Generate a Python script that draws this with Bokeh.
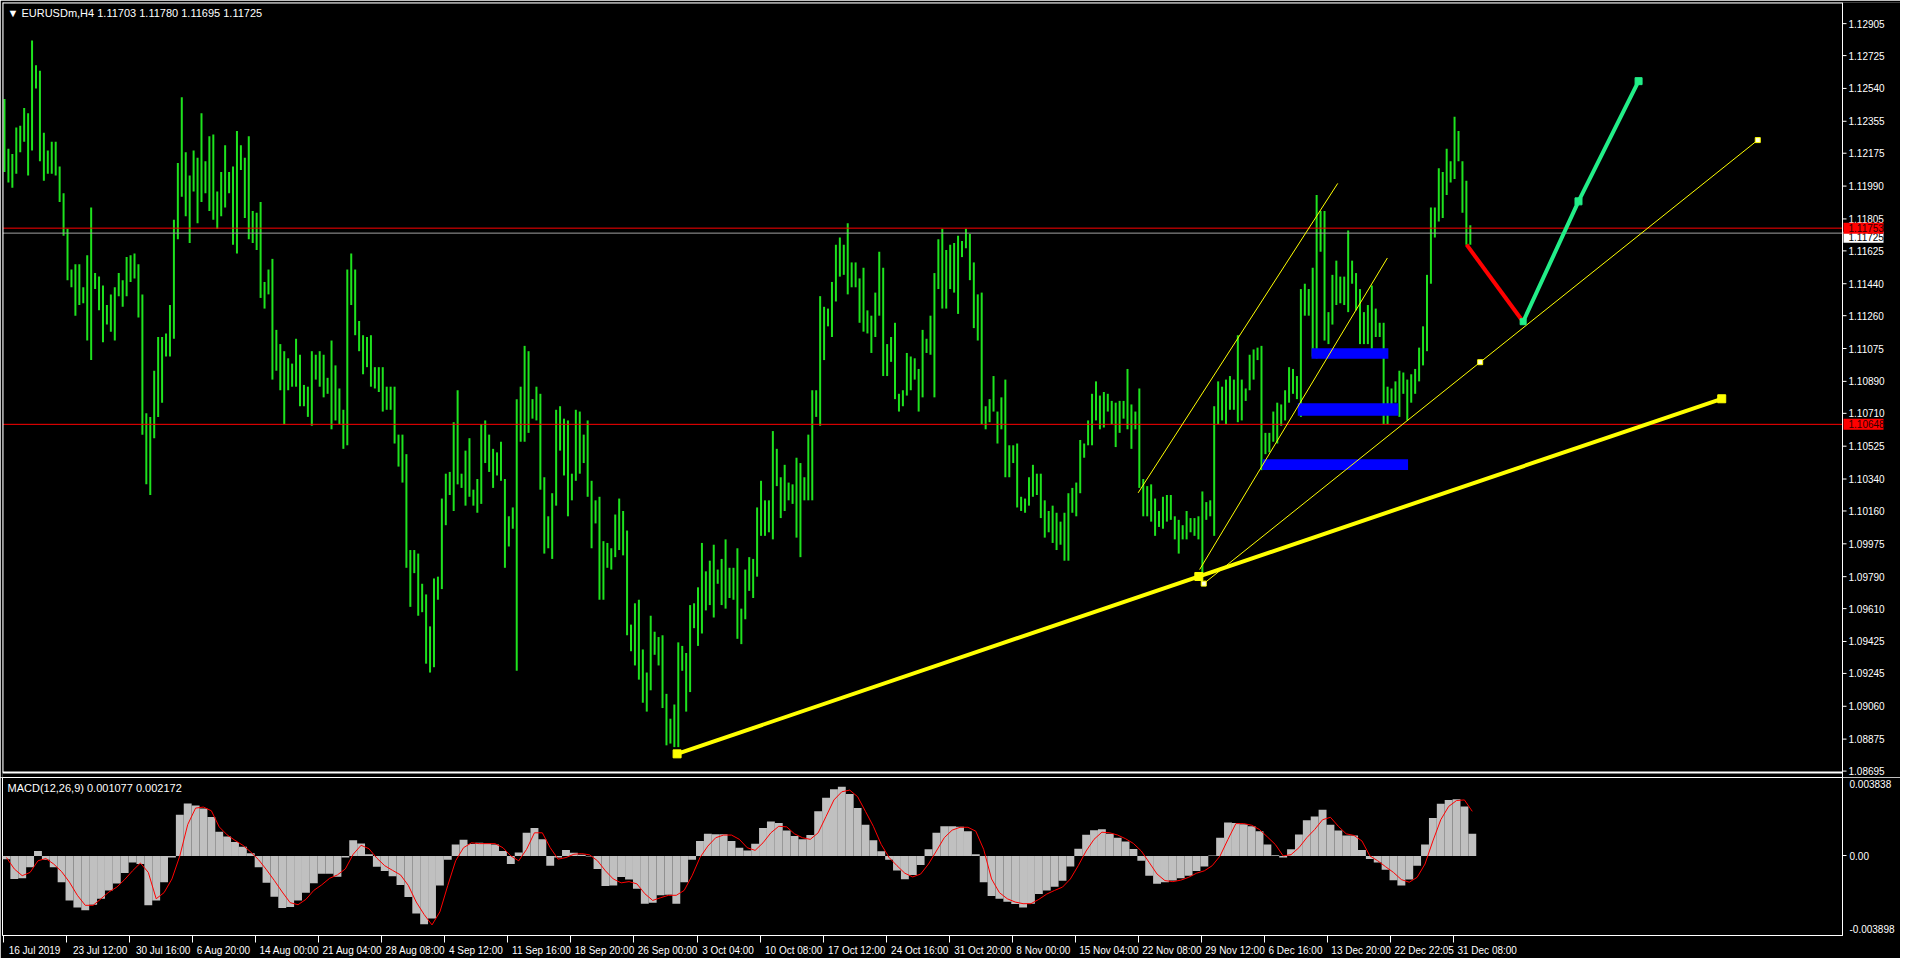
from bokeh.plotting import figure
from bokeh.models import Range1d, FixedTicker, Label, CustomJSTickFormatter
from bokeh.core.properties import value
from bokeh.layouts import column
from bokeh.embed import file_html
from bokeh.resources import INLINE

# ---------------- data (EURUSDm H4, each entry = 2 consecutive H4 bars) ----------------
bar_high = [
 1.1248,1.1220,1.1217,1.1232,1.1233,1.1243,1.1240,1.1281,1.1267,1.1264,
 1.1229,1.1219,1.1224,1.1224,1.1210,1.1195,1.1175,1.1152,1.1155,1.1155,
 1.1142,1.1160,1.1187,1.1150,1.1148,1.1143,1.1132,1.1138,1.1142,1.1150,
 1.1146,1.1159,1.1160,1.1161,1.1155,1.1138,1.1071,1.1069,1.1095,1.1114,
 1.1114,1.1116,1.1132,1.1180,1.1212,1.1249,1.1218,1.1205,1.1219,1.1215,
 1.1240,1.1213,1.1227,1.1228,1.1196,1.1207,1.1222,1.1207,1.1210,1.1230,
 1.1222,1.1215,1.1227,1.1185,1.1184,1.1190,1.1145,1.1152,1.1158,1.1118,
 1.1110,1.1106,1.1102,1.1099,1.1113,1.1104,1.1087,1.1086,1.1106,1.1104,
 1.1106,1.1104,1.1091,1.1112,1.1098,1.1085,1.1073,1.1152,1.1161,1.1152,
 1.1123,1.1115,1.1114,1.1115,1.1097,1.1097,1.1097,1.1086,1.1086,1.1086,
 1.1059,1.1059,1.1048,1.0994,1.0994,1.0992,1.0975,1.0969,1.0951,1.0978,
 1.0979,1.1023,1.1037,1.1038,1.1066,1.1084,1.1037,1.1050,1.1057,1.1028,
 1.1034,1.1065,1.1067,1.1059,1.1051,1.1049,1.1055,1.1034,1.1013,1.1018,
 1.1079,1.1086,1.1109,1.1106,1.1079,1.1086,1.1082,1.1035,1.1013,1.1026,
 1.1073,1.1075,1.1068,1.1067,1.1037,1.1073,1.1072,1.1059,1.1067,1.1033,
 1.1022,1.1024,1.0999,1.0998,1.0995,1.1014,1.1023,1.1016,1.1005,1.0952,
 1.0964,1.0966,1.0938,1.0925,1.0957,1.0948,1.0945,1.0946,1.0913,1.0899,
 1.0907,1.0942,1.0940,1.0936,1.0963,1.0964,1.0973,1.0998,1.0982,1.0988,
 1.0997,1.0983,1.0989,1.1000,1.0984,1.0984,1.0995,1.0961,1.0983,1.0990,
 1.0989,1.1018,1.1033,1.1022,1.1022,1.1061,1.1051,1.1035,1.1042,1.1032,
 1.1031,1.1046,1.1043,1.1035,1.1059,1.1084,1.1084,1.1137,1.1131,1.1130,
 1.1145,1.1166,1.1170,1.1166,1.1178,1.1156,1.1156,1.1147,1.1153,1.1129,
 1.1126,1.1139,1.1162,1.1153,1.1110,1.1114,1.1122,1.1082,1.1084,1.1105,
 1.1103,1.1102,1.1096,1.1118,1.1113,1.1126,1.1150,1.1169,1.1175,1.1163,
 1.1166,1.1167,1.1171,1.1168,1.1175,1.1172,1.1156,1.1138,1.1139,1.1075,
 1.1079,1.1092,1.1072,1.1080,1.1090,1.1053,1.1053,1.1054,1.1024,1.1023,
 1.1035,1.1042,1.1037,1.1037,1.1022,1.1016,1.1019,1.1015,1.1010,1.1015,
 1.1026,1.1029,1.1032,1.1056,1.1054,1.1067,1.1082,1.1089,1.1081,1.1083,
 1.1082,1.1078,1.1077,1.1078,1.1078,1.1096,1.1076,1.1072,1.1085,1.1034,
 1.1030,1.1031,1.1023,1.1016,1.1024,1.1025,1.1025,1.1013,1.1011,1.1008,
 1.1016,1.1012,1.1012,1.1013,1.1027,1.1021,1.1022,1.1075,1.1089,1.1086,
 1.1090,1.1092,1.1090,1.1115,1.1090,1.1085,1.1104,1.1107,1.1108,1.1109,
 1.1060,1.1060,1.1072,1.1077,1.1076,1.1084,1.1097,1.1096,1.1092,1.1141,
 1.1144,1.1141,1.1153,1.1194,1.1185,1.1185,1.1128,1.1149,1.1157,1.1148,
 1.1148,1.1174,1.1157,1.1150,1.1141,1.1128,1.1132,1.1143,1.1130,1.1122,
 1.1122,1.1086,1.1085,1.1089,1.1095,1.1094,1.1090,1.1093,1.1096,1.1108,
 1.1120,1.1149,1.1187,1.1187,1.1209,1.1207,1.1220,1.1213,1.1238,1.1230,
 1.1213,1.1202,1.1177]
bar_low = [
 1.1207,1.1201,1.1198,1.1206,1.1218,1.1224,1.1205,1.1219,1.1254,1.1213,
 1.1202,1.1206,1.1206,1.1205,1.1190,1.1171,1.1146,1.1142,1.1126,1.1132,
 1.1133,1.1112,1.1101,1.1141,1.1129,1.1111,1.1121,1.1117,1.1112,1.1137,
 1.1131,1.1137,1.1145,1.1147,1.1125,1.1059,1.1031,1.1025,1.1057,1.1069,
 1.1077,1.1103,1.1103,1.1113,1.1169,1.1193,1.1182,1.1167,1.1196,1.1178,
 1.1190,1.1195,1.1185,1.1180,1.1175,1.1182,1.1187,1.1195,1.1166,1.1161,
 1.1208,1.1181,1.1169,1.1167,1.1163,1.1136,1.1130,1.1138,1.1090,1.1095,
 1.1084,1.1065,1.1084,1.1086,1.1086,1.1075,1.1075,1.1069,1.1064,1.1090,
 1.1086,1.1080,1.1082,1.1062,1.1067,1.1065,1.1051,1.1053,1.1132,1.1115,
 1.1106,1.1093,1.1097,1.1086,1.1085,1.1083,1.1072,1.1073,1.1073,1.1054,
 1.1041,1.1032,1.0984,1.0962,1.0981,1.0957,1.0959,1.0930,1.0925,1.0928,
 1.0966,1.0972,1.1008,1.1025,1.1016,1.1031,1.1029,1.1019,1.1024,1.1019,
 1.1015,1.1020,1.1043,1.1038,1.1029,1.1036,1.1033,1.0984,1.0996,1.1006,
 1.0926,1.1055,1.1055,1.1060,1.1068,1.1067,1.1028,1.0992,1.0995,1.0989,
 1.1019,1.1050,1.1036,1.1013,1.1022,1.1033,1.1037,1.1043,1.1024,1.0995,
 1.1009,1.0966,1.0966,1.0984,1.0983,1.0990,1.0994,1.0991,1.0946,1.0937,
 1.0929,1.0921,1.0908,1.0903,1.0915,1.0935,1.0929,1.0905,1.0884,1.0885,
 1.0883,1.0883,1.0926,1.0903,1.0914,1.0950,1.0940,1.0947,1.0960,1.0963,
 1.0956,1.0975,1.0963,1.0961,1.0967,1.0966,1.0944,1.0941,1.0955,1.0971,
 1.0967,1.0979,1.1002,1.1002,1.1004,1.1000,1.1030,1.1012,1.1016,1.1022,
 1.1020,1.1001,1.0990,1.1022,1.1022,1.1022,1.1069,1.1064,1.1101,1.1120,
 1.1114,1.1134,1.1148,1.1149,1.1138,1.1142,1.1142,1.1122,1.1117,1.1116,
 1.1105,1.1114,1.1126,1.1092,1.1092,1.1100,1.1079,1.1072,1.1075,1.1081,
 1.1084,1.1090,1.1072,1.1080,1.1105,1.1104,1.1080,1.1141,1.1130,1.1130,
 1.1141,1.1139,1.1127,1.1159,1.1164,1.1146,1.1119,1.1112,1.1065,1.1062,
 1.1066,1.1072,1.1054,1.1062,1.1035,1.1035,1.1043,1.1018,1.1016,1.1015,
 1.1019,1.1024,1.1025,1.1012,1.1001,1.1004,1.0998,1.0994,1.0997,1.0988,
 1.0988,1.1015,1.1013,1.1026,1.1046,1.1053,1.1053,1.1067,1.1062,1.1063,
 1.1072,1.1065,1.1052,1.1060,1.1068,1.1062,1.1051,1.1062,1.1029,1.1013,
 1.1013,1.1010,1.1002,1.1007,1.1006,1.1010,1.1011,1.1000,1.0992,1.1000,
 1.1000,1.1004,1.1002,1.1000,1.0979,1.1011,1.1013,1.1002,1.1065,1.1067,
 1.1065,1.1073,1.1073,1.1066,1.1067,1.1078,1.1084,1.1090,1.1101,1.1039,
 1.1048,1.1049,1.1055,1.1054,1.1064,1.1067,1.1077,1.1082,1.1079,1.1069,
 1.1126,1.1126,1.1103,1.1102,1.1162,1.1112,1.1110,1.1121,1.1132,1.1133,
 1.1132,1.1128,1.1144,1.1129,1.1110,1.1110,1.1110,1.1106,1.1114,1.1114,
 1.1065,1.1065,1.1072,1.1077,1.1069,1.1082,1.1067,1.1077,1.1082,1.1089,
 1.1098,1.1106,1.1144,1.1170,1.1179,1.1181,1.1194,1.1201,1.1203,1.1213,
 1.1184,1.1166,1.1166]

# MACD(12,26,9), one value per 4 H4 bars
macd_hist = [
 -0.00016,-0.00113,-0.00110,-0.00056,0.00024,-0.00019,-0.00056,-0.00129,-0.00218,-0.00253,
 -0.00266,-0.00239,-0.00210,-0.00169,-0.00135,-0.00084,-0.00032,-0.00040,-0.00242,-0.00218,
 -0.00129,-0.00008,0.00201,0.00256,0.00247,0.00232,0.00190,0.00118,0.00095,0.00068,
 0.00045,0.00013,-0.00056,-0.00132,-0.00200,-0.00255,-0.00250,-0.00218,-0.00180,-0.00134,
 -0.00087,-0.00087,-0.00102,-0.00008,0.00077,0.00061,0.00008,-0.00053,-0.00074,-0.00100,
 -0.00142,-0.00201,-0.00282,-0.00335,-0.00306,-0.00145,-0.00019,0.00056,0.00079,0.00058,
 0.00064,0.00061,0.00056,0.00024,-0.00040,0.00016,0.00113,0.00137,0.00081,-0.00048,
 -0.00008,0.00029,0.00015,0.00006,-0.00003,-0.00064,-0.00148,-0.00145,-0.00103,-0.00116,
 -0.00161,-0.00234,-0.00229,-0.00193,-0.00190,-0.00234,-0.00129,-0.00019,0.00073,0.00108,
 0.00106,0.00106,0.00073,0.00040,0.00026,0.00060,0.00137,0.00168,0.00161,0.00124,
 0.00097,0.00081,0.00102,0.00218,0.00285,0.00326,0.00338,0.00303,0.00234,0.00153,
 0.00077,0.00023,-0.00019,-0.00071,-0.00114,-0.00093,-0.00045,0.00032,0.00113,0.00145,
 0.00145,0.00143,0.00121,0.00008,-0.00129,-0.00197,-0.00210,-0.00224,-0.00235,-0.00253,
 -0.00234,-0.00187,-0.00169,-0.00151,-0.00122,-0.00052,0.00035,0.00103,0.00126,0.00131,
 0.00108,0.00089,0.00071,0.00034,-0.00024,-0.00097,-0.00137,-0.00129,-0.00121,-0.00110,
 -0.00097,-0.00074,-0.00052,0.00002,0.00089,0.00164,0.00161,0.00155,0.00145,0.00121,
 0.00056,0.00003,-0.00008,0.00032,0.00105,0.00174,0.00193,0.00226,0.00153,0.00124,
 0.00100,0.00100,0.00029,-0.00015,-0.00032,-0.00068,-0.00119,-0.00145,-0.00116,-0.00048,
 0.00056,0.00185,0.00255,0.00274,0.00277,0.00242,0.00108]
macd_signal = [
 -0.00008,-0.00064,-0.00097,-0.00081,-0.00024,-0.00013,-0.00040,-0.00077,-0.00129,-0.00193,
 -0.00242,-0.00242,-0.00210,-0.00177,-0.00153,-0.00116,-0.00073,-0.00035,-0.00081,-0.00210,
 -0.00180,-0.00113,0.00000,0.00153,0.00234,0.00239,0.00221,0.00142,0.00103,0.00076,
 0.00052,0.00019,-0.00019,-0.00068,-0.00121,-0.00177,-0.00229,-0.00239,-0.00213,-0.00169,
 -0.00142,-0.00110,-0.00093,-0.00064,0.00008,0.00052,0.00035,-0.00011,-0.00048,-0.00071,
 -0.00093,-0.00145,-0.00226,-0.00287,-0.00338,-0.00274,-0.00145,-0.00024,0.00040,0.00064,
 0.00060,0.00060,0.00060,0.00040,0.00000,-0.00024,0.00032,0.00113,0.00113,0.00040,
 -0.00016,-0.00008,0.00008,0.00011,0.00005,-0.00024,-0.00073,-0.00113,-0.00132,-0.00126,
 -0.00137,-0.00185,-0.00218,-0.00205,-0.00193,-0.00193,-0.00169,-0.00097,-0.00008,0.00048,
 0.00089,0.00102,0.00102,0.00081,0.00040,0.00027,0.00064,0.00113,0.00145,0.00142,
 0.00108,0.00089,0.00081,0.00113,0.00193,0.00274,0.00314,0.00322,0.00290,0.00218,
 0.00145,0.00056,-0.00008,-0.00048,-0.00085,-0.00103,-0.00089,-0.00040,0.00024,0.00089,
 0.00126,0.00140,0.00140,0.00121,0.00032,-0.00113,-0.00180,-0.00210,-0.00226,-0.00234,
 -0.00234,-0.00213,-0.00187,-0.00169,-0.00153,-0.00113,-0.00048,0.00024,0.00081,0.00116,
 0.00113,0.00102,0.00084,0.00061,0.00024,-0.00032,-0.00089,-0.00121,-0.00126,-0.00119,
 -0.00105,-0.00085,-0.00073,-0.00048,0.00000,0.00081,0.00158,0.00158,0.00150,0.00129,
 0.00093,0.00056,0.00000,0.00006,0.00040,0.00089,0.00129,0.00177,0.00189,0.00145,
 0.00108,0.00100,0.00073,0.00000,-0.00024,-0.00053,-0.00081,-0.00116,-0.00129,-0.00105,
 -0.00040,0.00073,0.00177,0.00242,0.00271,0.00274,0.00218]

price_ticks = [1.12905,1.12725,1.12540,1.12355,1.12175,1.11990,1.11805,1.11625,1.11440,
               1.11260,1.11075,1.10890,1.10710,1.10525,1.10340,1.10160,1.09975,1.09790,
               1.09610,1.09425,1.09245,1.09060,1.08875,1.08695]
macd_max = 0.003838
macd_min = -0.003898
time_tick_bars = [0,32,64,96,128,160,192,224,256,288,320,352,384,416,448,480,512,544,
                  576,608,640,672,704,736]
time_tick_labels = ["16 Jul 2019","23 Jul 12:00","30 Jul 16:00","6 Aug 20:00","14 Aug 00:00",
                    "21 Aug 04:00","28 Aug 08:00","4 Sep 12:00","11 Sep 16:00","18 Sep 20:00",
                    "26 Sep 00:00","3 Oct 04:00","10 Oct 08:00","17 Oct 12:00","24 Oct 16:00",
                    "31 Oct 20:00","8 Nov 00:00","15 Nov 04:00","22 Nov 08:00","29 Nov 12:00",
                    "6 Dec 16:00","13 Dec 20:00","22 Dec 22:05","31 Dec 08:00"]

# drawn objects (bar index, price)
trend_x = [341.9, 872.1]
trend_y = [1.08792, 1.10792]
chan_up_x = [575.9, 677.2]
chan_up_y = [1.10262, 1.12005]
chan_lo_x = [607.1, 702.4]
chan_lo_y = [1.09830, 1.11585]
fan_x = [609.2, 749.5, 890.4]
fan_y = [1.09751, 1.10998, 1.12249]
anchor_x = [606.7]
anchor_y = [1.09791]
red_x = [742.6, 771.3]
red_y = [1.11660, 1.11226]
green_x = [771.3, 799.4, 829.9]
green_y = [1.11226, 1.11904, 1.12581]
zone_left = [639.0, 656.9, 663.9]
zone_right = [712.9, 708.0, 702.9]
zone_bottom = [1.10391, 1.10696, 1.11018]
zone_top = [1.10451, 1.10767, 1.11076]
red_levels = [1.11753, 1.10648]
bid_level = 1.11725
title_text = "\u25bc EURUSDm,H4  1.11703 1.11780 1.11695 1.11725"
macd_title = "MACD(12,26,9) 0.001077 0.002172"

# ---------------- geometry / style ----------------
FONT = "Liberation Sans"
FS = "10px"
FW = 1840                 # width of chart area (px)
TOTAL_W = 1900
MH = 770                  # height of price area (px)
X0, X1 = -0.5, 933.4      # bar-index extent of chart area
Y0, Y1 = 1.08687, 1.13024
U = FW / (X1 - X0)        # px per bar index
PPU = MH / (Y1 - Y0)      # px per price unit
GREEN = "#1ee21e"

bar_x = [2 * j + 0.5 for j in range(len(bar_high))]
macd_x = [4 * k + 1.5 for k in range(len(macd_hist))]

# ---------------- price panel (includes its price scale strip) ----------------
main_fw = TOTAL_W - 2
p = figure(frame_width=main_fw, frame_height=MH + 5,
           x_range=Range1d(X0, X0 + main_fw / U), y_range=Range1d(Y0 - 5 / PPU, Y1),
           output_backend="svg", toolbar_location=None, x_axis_location=None,
           y_axis_location=None, background_fill_color="black", border_fill_color="black",
           outline_line_color=None, min_border_left=2, min_border_top=2,
           min_border_bottom=0, min_border_right=0)
p.grid.visible = False

p.segment(x0=bar_x, y0=bar_low, x1=bar_x, y1=bar_high, line_color=GREEN, line_width=2)

p.segment(x0=[X0] * len(red_levels), x1=[X1] * len(red_levels), y0=red_levels, y1=red_levels,
          line_color="#ff0000", line_width=1)
p.segment(x0=[X0], x1=[X1], y0=[bid_level], y1=[bid_level], line_color="#a0a0a0", line_width=1)

p.quad(left=zone_left, right=zone_right, bottom=zone_bottom, top=zone_top,
       fill_color="#0000ff", line_color=None)

p.line(chan_up_x, chan_up_y, line_color="#ffff00", line_width=1)
p.line(chan_lo_x, chan_lo_y, line_color="#ffff00", line_width=1)
p.line(fan_x, fan_y, line_color="#ffff00", line_width=1)
p.line(trend_x, trend_y, line_color="#ffff00", line_width=4)
p.scatter(trend_x, trend_y, marker="square", size=8, fill_color="#ffff00", line_color="#ffff00")
p.scatter(anchor_x, anchor_y, marker="square", size=8, fill_color="#ffff00", line_color="#ffff00")
p.scatter(fan_x, fan_y, marker="square", size=5, fill_color="#ffffe0", line_color="#ffff00")

p.line(red_x, red_y, line_color="#ff0000", line_width=4)
p.line(green_x, green_y, line_color="#22ee88", line_width=4)
p.scatter(green_x[1:], green_y[1:], marker="square", size=7, fill_color="#22ee88",
          line_color="#22ee88")
p.scatter(green_x[:1], green_y[:1], marker="square", size=6, fill_color="#22ee88",
          line_color="#22ee88")

# chart border (top, left, bottom) and price scale line
p.segment(x0=[X0, X0, X0], x1=[X1, X0, X1], y0=[Y1, Y0, Y0], y1=[Y1, Y1, Y0],
          line_color="white", line_width=2)
p.segment(x0=[X1], x1=[X1], y0=[Y0 - 5 / PPU], y1=[Y1], line_color="white", line_width=1)

# price scale: tick marks and labels
p.segment(x0=[X1] * len(price_ticks), x1=[X1 + 4 / U] * len(price_ticks),
          y0=price_ticks, y1=price_ticks, line_color="white", line_width=1)
p.text(x=[X1 + 6 / U] * len(price_ticks), y=price_ticks,
       text=["%.5f" % t for t in price_ticks], text_color="white",
       text_font=value(FONT), text_font_size=FS, text_baseline="middle", text_align="left")

# current-price boxes on the scale
box_l, box_r, box_h = X1 + 1 / U, X1 + 41 / U, 5.5 / PPU
bid_c = bid_level - 4 / PPU
p.quad(left=[box_l], right=[box_r], bottom=[bid_c - box_h], top=[bid_c + box_h],
       fill_color="white", line_color=None)
p.text(x=[X1 + 6 / U], y=[bid_c], text=["%.5f" % bid_level], text_color="black",
       text_font=value(FONT), text_font_size=FS, text_baseline="middle", text_align="left")
p.quad(left=[box_l] * 2, right=[box_r] * 2, bottom=[v - box_h for v in red_levels],
       top=[v + box_h for v in red_levels], fill_color="#ff0000", line_color=None)
p.text(x=[X1 + 6 / U] * 2, y=red_levels, text=["%.5f" % v for v in red_levels],
       text_color="#300000", text_font=value(FONT), text_font_size=FS,
       text_baseline="middle", text_align="left")

p.add_layout(Label(x=5, y=MH + 5 - 4, x_units="screen", y_units="screen", text=title_text,
                   text_color="white", text_font=FONT, text_font_size="11px",
                   text_baseline="top"))

# ---------------- MACD panel ----------------
m = figure(frame_width=FW, frame_height=158, x_range=Range1d(X0, X1),
           y_range=Range1d(macd_min, macd_max),
           output_backend="svg", toolbar_location=None, y_axis_location="right",
           background_fill_color="black", border_fill_color="black", outline_line_color="white",
           min_border_left=2, min_border_top=0, min_border_bottom=0,
           min_border_right=TOTAL_W - 2 - FW)
m.grid.visible = False


def style_axis(ax):
    ax.axis_line_color = "white"
    ax.major_label_text_color = "white"
    ax.major_label_text_font = FONT
    ax.major_label_text_font_size = FS
    ax.minor_tick_in = 0
    ax.major_tick_in = 0


my = m.yaxis[0]
style_axis(my)
# edge values are printed just inside the panel, as the terminal does
my.ticker = FixedTicker(ticks=[macd_max - 0.00034, 0.0, macd_min + 0.00030], minor_ticks=[0.0])
my.formatter = CustomJSTickFormatter(
    code="if (Math.abs(tick) < 1e-9) { return '0.00'; } return tick > 0 ? '%s' : '%s';"
         % ("%.6f" % macd_max, "%.6f" % macd_min))
my.major_tick_line_color = None
my.major_tick_out = 4
my.minor_tick_line_color = "white"
my.minor_tick_out = 4
my.major_label_standoff = 3

# time scale: white tick marks (minor ticks) with labels starting at each mark
mx = m.xaxis[0]
style_axis(mx)
lab_ticks = [b + (3 + 2.55 * len(s)) / U for b, s in zip(time_tick_bars, time_tick_labels)]
mx.ticker = FixedTicker(ticks=lab_ticks, minor_ticks=time_tick_bars)
mx.major_label_overrides = {t: s for t, s in zip(lab_ticks, time_tick_labels)}
mx.major_tick_line_color = None
mx.major_tick_out = 0
mx.minor_tick_line_color = "white"
mx.minor_tick_out = 7
mx.major_label_standoff = 2

m.vbar(x=macd_x, width=4, top=macd_hist, bottom=0, fill_color="#c0c0c0", line_color=None)
m.line(macd_x, macd_signal, line_color="#ff0000", line_width=1)
m.add_layout(Label(x=5, y=154, x_units="screen", y_units="screen", text=macd_title,
                   text_color="white", text_font=FONT, text_font_size="11px",
                   text_baseline="top"))

layout = column(p, m, spacing=0)
open("out.html", "w").write(file_html(layout, INLINE))
